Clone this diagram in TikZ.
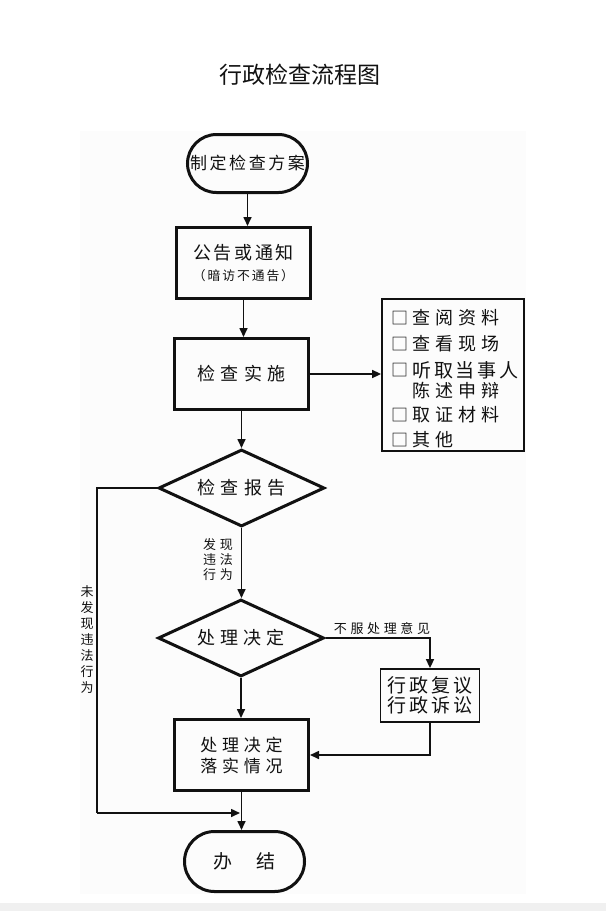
\documentclass[tikz,border=0pt]{standalone}
\usepackage{fontspec}
\setmainfont{Noto Sans CJK SC}
\newfontfamily\cjka[LetterSpace=15]{Noto Sans CJK SC}
\newfontfamily\cjkb[LetterSpace=28]{Noto Sans CJK SC}
\usetikzlibrary{shapes.geometric,arrows.meta}
\definecolor{panel}{HTML}{FCFCFC}
\definecolor{strip}{HTML}{F0F0F0}
\definecolor{ink}{HTML}{111111}
\begin{document}
\begin{tikzpicture}[x=1pt,y=-1pt,
  thickbox/.style={draw=ink,line width=3pt,inner sep=0pt,align=center,text=ink},
  thinbox/.style={draw=ink,line width=1.8pt,inner sep=0pt,align=center,text=ink},
  terminal/.style={draw=ink,line width=3pt,inner sep=0pt,align=center,text=ink,minimum width=120pt},
  decision/.style={draw=ink,diamond,aspect=2.1,line width=3pt,inner sep=0pt,align=center,text=ink,minimum width=166pt,minimum height=77pt},
  flow/.style={draw=ink,line width=1.6pt,-{Triangle[length=9pt,width=8pt]}},
  plain/.style={draw=ink,line width=1.6pt},
  lab/.style={inner sep=0pt,align=center,text=ink,font=\cjkb\fontsize{13}{15}\selectfont},
  item/.style={inner sep=0pt,anchor=west,text=ink,font=\cjkb\fontsize{18}{20}\selectfont},
  chk/.style={inner sep=0pt,text=ink,font=\fontsize{17}{20}\selectfont}
]
\useasboundingbox (0,0) rectangle (606,911);
\fill[white] (0,0) rectangle (606,911);
\fill[panel] (80,131) rectangle (526,894);
\fill[strip] (0,903) rectangle (606,911);

% title
\node[inner sep=0pt,text=ink,font=\fontsize{23}{26}\selectfont] (title) at (300,75) {行政检查流程图};

% main flow
\node[terminal,minimum height=58pt,rounded corners=29pt,font=\cjka\fontsize{17}{20}\selectfont] (start) at (247.5,163.5) {制定检查方案};
\node[thickbox,minimum width=134pt,minimum height=71pt] (notice) at (243.5,263)
  {\cjka\fontsize{18}{23}\selectfont 公告或通知\\[8pt]{\cjka\fontsize{12.8}{14}\selectfont （暗访不通告）}};
\node[thickbox,minimum width=134pt,minimum height=71pt,font=\cjkb\fontsize{18}{22}\selectfont] (exec) at (241.5,374) {检查实施};
\node[decision,font=\cjkb\fontsize{18}{22}\selectfont] (report) at (241.5,488) {检查报告};
\node[decision,font=\cjkb\fontsize{18}{22}\selectfont] (decide) at (241,638) {处理决定};
\node[thickbox,minimum width=134pt,minimum height=71pt,font=\cjkb\fontsize{17}{21}\selectfont] (impl) at (241.5,755) {处理决定\\落实情况};
\node[terminal,minimum height=60pt,rounded corners=30pt,font=\cjka\fontsize{19}{22}\selectfont] (finish) at (244.5,861.5) {办　结};

% side boxes
\node[thinbox,minimum width=142pt,minimum height=152pt] (list) at (453,375) {};
\node[thinbox,minimum width=99pt,minimum height=53pt,font=\cjka\fontsize{19}{20}\selectfont] (review) at (430,695.5) {行政复议\\行政诉讼};

% list contents
\node[chk] (c1) at (399.5,318) {□};
\node[item] (t1) at (412,318) {查阅资料};
\node[chk] (c2) at (399.5,344) {□};
\node[item] (t2) at (412,344) {查看现场};
\node[chk] (c3) at (399.5,370) {□};
\node[item,font=\cjka\fontsize{19}{20}\selectfont] (t3) at (412,370) {听取当事人};
\node[item] (t4) at (412,390.5) {陈述申辩};
\node[chk] (c5) at (399.5,415) {□};
\node[item] (t5) at (412,415) {取证材料};
\node[chk] (c6) at (399.5,440) {□};
\node[item] (t6) at (412,440) {其他};

% labels
\node[lab] (lfound) at (218,560) {发现\\违法\\行为};
\node[lab,font=\fontsize{13}{16}\selectfont] (lnot) at (87,640) {未\\发\\现\\违\\法\\行\\为};
\node[lab] (lobj) at (382,628) {不服处理意见};

% helper coordinates
\coordinate (lc) at (97,813);
\coordinate (merge) at (240,813);

% connectors
\draw[flow] (start.south) -- (start.south |- notice.north);
\draw[flow] (notice.south) -- (notice.south |- exec.north);
\draw[flow] (exec.east) -- (exec.east -| list.west);
\draw[flow] (exec.south) -- (exec.south |- report.north);
\draw[flow] (report.south) -- (report.south |- decide.north);
\draw[flow] (decide.east) -| (review.north);
\draw[flow] (review.south) |- (impl.east);
\draw[flow] (decide.south) -- (decide.south |- impl.north);
\draw[flow] (impl.south) -- (impl.south |- finish.north);
\draw[plain] (report.west) -| (lc);
\draw[flow] (lc) -- (merge);
\end{tikzpicture}
\end{document}
